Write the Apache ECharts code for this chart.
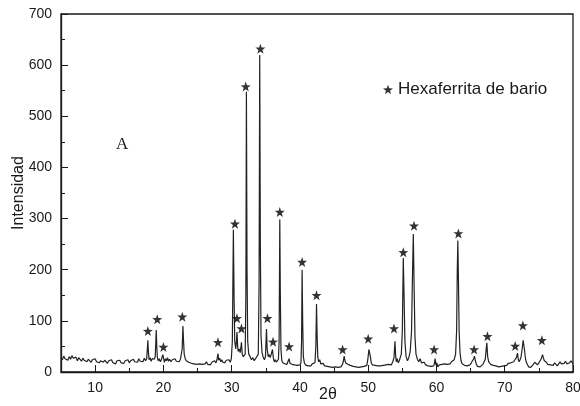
<!DOCTYPE html>
<html>
<head>
<meta charset="utf-8">
<script src="https://cdn.jsdelivr.net/npm/echarts@6/dist/echarts.min.js"></script>
<style>
  html, body { margin: 0; padding: 0; background: #fff; }
  #myChart { width: 580px; height: 406px; }
</style>
</head>
<body>
<div id="myChart"></div>
<script>
// XRD scan, [2theta, counts]
const scanLow = [
  [5.0,28],[5.2,24],[5.4,31],[5.6,26],[5.8,29],[6.0,23],[6.2,30],[6.4,25],[6.6,32],[6.8,27],
  [7.0,24],[7.2,29],[7.4,22],[7.6,28],[7.8,25],[8.0,21],[8.2,27],[8.4,23],[8.6,26],[8.8,20],
  [9.0,25],[9.2,22],[9.4,19],[9.6,24],[9.8,21],[10.0,26],[10.2,20],[10.4,23],[10.6,18],[10.8,22],
  [11.0,25],[11.2,19],[11.4,23],[11.6,20],[11.8,17],[12.0,22],[12.2,19],[12.4,24],[12.6,18],[12.8,21],
  [13.0,16],[13.2,22],[13.4,19],[13.6,23],[13.8,18],[14.0,21],[14.2,17],[14.4,22],[14.6,20],[14.8,24],
  [15.0,18],[15.2,22],[15.4,19],[15.6,25],[15.8,20],[16.0,23],[16.2,19],[16.4,26],[16.6,21],[16.8,24],
  [17.0,20],[17.2,27],[17.4,22],[17.55,26],[17.65,45],[17.72,62],[17.8,40],[17.9,24],[18.05,28],[18.2,21],
  [18.35,26],[18.5,23],[18.65,25],[18.8,30],[18.88,55],[18.95,82],[19.03,50],[19.12,28],[19.25,22],[19.4,26],
  [19.55,20],[19.7,24],[19.82,30],[19.92,34],[20.02,27],[20.15,19],[20.3,26],[20.45,22],[20.6,28],[20.75,21],
  [20.9,25],[21.1,20],[21.3,24],[21.5,22],[21.7,26],[21.9,21],[22.1,24],[22.3,20],[22.5,25],[22.65,28],
  [22.75,45],[22.86,90],[22.95,60],[23.05,35],[23.2,26],[23.35,22],[23.5,25],[23.7,19],[23.9,22],[24.1,17],
  [24.3,20],[24.5,16],[24.7,19],[24.9,15],[25.1,18],[25.3,16],[25.5,19],[25.7,15],[25.9,18],[26.1,16],
  [26.3,20],[26.5,15],[26.7,18],[26.9,14],[27.1,19],[27.3,17],[27.5,22],[27.7,18],[27.85,24],[27.99,36],
  [28.1,23],[28.25,27],[28.4,20],[28.55,24],[28.7,19],[28.85,22],[29.0,18],[29.2,23],[29.4,20],[29.6,24],
  [29.8,19],[29.95,26]
];
const scanMain = [
  [30.1,60],[30.25,278],[30.35,150],[30.45,60],[30.6,45],[30.7,60],[30.78,78],[30.88,50],[30.95,40],[31.1,45],
  [31.25,38],[31.35,48],[31.43,58],[31.55,35],[31.7,30],[31.85,28],[31.98,35],[32.08,150],[32.16,548],[32.25,200],
  [32.35,60],[32.5,35],[32.7,30],[32.9,24],[33.1,28],[33.3,22],[33.5,26],[33.7,25],[33.9,35],[34.02,180],
  [34.11,620],[34.2,250],[34.3,70],[34.45,38],[34.6,30],[34.8,24],[34.95,30],[35.02,55],[35.1,84],[35.2,45],
  [35.35,30],[35.5,34],[35.65,28],[35.8,35],[35.9,38],[35.98,44],[36.1,28],[36.25,20],[36.4,24],[36.55,19],
  [36.7,22],[36.85,25],[36.95,60],[37.05,298],[37.13,150],[37.22,45],[37.35,22],[37.5,18],[37.65,20],[37.8,16],
  [37.95,19],[38.1,15],[38.25,18],[38.41,26],[38.55,17],[38.7,20],[38.85,15],[39.0,18],[39.2,14],[39.4,17],
  [39.6,13],[39.8,16],[40.0,14],[40.15,18],[40.24,60],[40.32,200],[40.4,100],[40.5,30],[40.65,18],[40.8,14]
];
const scanHigh = [
  [41.0,16],[41.2,12],[41.4,15],[41.6,12],[41.8,16],[42.0,13],[42.2,18],[42.33,50],[42.43,133],[42.52,70],
  [42.62,28],[42.75,20],[42.9,24],[43.05,16],[43.2,14],[43.4,17],[43.6,12],[43.8,15],[44.0,11],[44.2,14],
  [44.4,10],[44.6,13],[44.8,9],[45.0,12],[45.2,10],[45.4,13],[45.6,9],[45.8,12],[46.0,10],[46.2,14],
  [46.35,20],[46.48,31],[46.6,22],[46.75,17],[46.9,20],[47.05,15],[47.2,18],[47.4,13],[47.6,15],[47.8,11],
  [48.0,14],[48.2,10],[48.4,12],[48.6,9],[48.8,12],[49.0,10],[49.2,13],[49.4,11],[49.6,14],[49.8,13],
  [49.95,25],[50.1,44],[50.2,47],[50.32,30],[50.45,18],[50.6,14],[50.8,11],[51.0,13],[51.2,10],[51.4,12],
  [51.6,9],[51.8,12],[52.0,10],[52.2,13],[52.4,11],[52.6,14],[52.8,12],[53.0,15],[53.2,18],[53.4,14],
  [53.6,20],[53.78,28],[53.92,60],[54.02,32],[54.12,20],[54.25,26],[54.4,18],[54.55,22],[54.7,25],[54.85,35],
  [55.0,80],[55.14,223],[55.25,150],[55.38,60],[55.55,30],[55.75,22],[55.95,28],[56.15,40],[56.35,80],[56.5,200],
  [56.61,270],[56.72,170],[56.85,70],[57.0,35],[57.2,25],[57.4,20],[57.6,26],[57.8,18],[58.0,15],[58.2,19],
  [58.4,14],[58.6,16],[58.8,12],[59.0,15],[59.2,11],[59.4,14],[59.6,12],[59.7,17],[59.8,26],[59.92,14],
  [60.05,18],[60.2,10],[60.4,14],[60.6,11],[60.8,15],[61.0,12],[61.2,16],[61.4,13],[61.6,15],[61.8,18],
  [62.0,16],[62.2,20],[62.4,18],[62.6,24],[62.8,35],[62.95,80],[63.05,200],[63.13,257],[63.22,180],[63.32,80],
  [63.45,38],[63.6,22],[63.75,16],[63.9,19],[64.1,13],[64.3,16],[64.5,12],[64.7,15],[64.9,14],[65.1,18],
  [65.3,20],[65.45,26],[65.56,31],[65.7,22],[65.85,15],[66.0,11],[66.2,14],[66.4,10],[66.6,13],[66.8,15],
  [67.0,18],[67.15,25],[67.28,45],[67.38,57],[67.5,30],[67.65,20],[67.8,22],[67.95,15],[68.1,18],[68.3,13],
  [68.5,16],[68.7,12],[68.9,14],[69.1,10],[69.3,13],[69.5,11],[69.7,14],[69.9,12],[70.1,15],[70.3,13],
  [70.5,17],[70.7,15],[70.9,18],[71.1,16],[71.3,20],[71.5,22],[71.7,28],[71.87,37],[71.98,25],[72.1,20],
  [72.25,24],[72.4,30],[72.55,45],[72.7,62],[72.8,65],[72.92,40],[73.05,25],[73.2,18],[73.35,14],[73.5,10],
  [73.65,13],[73.8,9],[74.0,12],[74.2,15],[74.4,19],[74.6,17],[74.8,14],[75.0,18],[75.2,21],[75.35,26],
  [75.54,34],[75.65,28],[75.8,22],[75.95,25],[76.1,19],[76.3,15],[76.5,12],[76.7,14],[76.9,11],[77.1,13],
  [77.3,18],[77.5,15],[77.7,12],[77.9,16],[78.1,20],[78.3,16],[78.5,13],[78.7,17],[78.9,21],[79.1,16],
  [79.3,14],[79.5,18],[79.7,22],[79.9,19],[80.0,16]
];

// star markers (hexaferrita de bario reflections)
const starAngle = [17.72, 19.1, 20.0, 22.77, 27.99, 30.48, 30.78, 31.43, 32.06, 34.21, 35.24, 36.06, 37.05, 38.41,
  40.32, 42.43, 46.25, 50.0, 53.78, 55.14, 56.71, 59.65, 63.21, 65.51, 67.47, 71.53, 72.66, 75.44];
const starHeight = [80, 103, 49, 108, 58, 290, 105, 85, 558, 632, 105, 59, 313, 50,
  215, 150, 44, 65, 85, 234, 286, 44, 271, 44, 70, 51, 91, 62];

const xMajorTicks = [10, 20, 30, 40, 50, 60, 70, 80];
const phaseName = "Hexaferrita de bario";

const starPath = "path://M0,-10L2.35,-3.24L9.51,-3.09L3.8,1.24L5.88,8.09L0,4L-5.88,8.09L-3.8,1.24L-9.51,-3.09L-2.35,-3.24Z";
const ink = "#1a1a1a";
const sans = "Liberation Sans, Arial, Helvetica, sans-serif";

let myChart = echarts.init(document.getElementById("myChart"));
myChart.setOption({
  animation: false,
  backgroundColor: "#fff",
  textStyle: { fontFamily: sans, color: ink },
  grid: {
    left: 61, right: 7, top: 14, bottom: 34,
    containLabel: false, outerBoundsMode: "none",
    show: true, borderColor: ink, borderWidth: 1.3
  },
  legend: {
    data: [phaseName],
    left: 378, top: 76,
    itemWidth: 10, itemHeight: 10,
    textStyle: { fontSize: 17, color: ink, fontFamily: sans }
  },
  graphic: [
    { type: "text", left: 116, top: 136, style: { text: "A", fontSize: 17, fontFamily: "Liberation Serif, Times New Roman, serif", fill: ink } },
    { type: "text", left: 319, top: 387, style: { text: "2θ", fontSize: 16, fontFamily: sans, fill: ink } }
  ],
  xAxis: [
    {
      type: "value", min: 5, max: 80, interval: 5,
      axisLine: { lineStyle: { color: ink, width: 1.3 } },
      axisTick: { inside: true, length: 4, lineStyle: { color: ink } },
      axisLabel: {
        margin: 9, fontSize: 14, color: ink,
        formatter: v => (v % 10 === 0 ? String(v) : "")
      },
      splitLine: { show: false }
    },
    {
      type: "value", min: 5, max: 80, position: "bottom", gridIndex: 0,
      axisLine: { show: false },
      axisTick: { inside: true, length: 7, customValues: xMajorTicks, lineStyle: { color: ink } },
      axisLabel: { show: false },
      splitLine: { show: false }
    }
  ],
  yAxis: {
    type: "value", min: 0, max: 700, interval: 100,
    name: "Intensidad", nameLocation: "middle", nameGap: 34, nameMoveOverlap: false,
    nameTextStyle: { fontSize: 16, color: ink, fontFamily: sans },
    axisLine: { show: true, lineStyle: { color: ink, width: 1.3 } },
    axisTick: { inside: true, length: 7, lineStyle: { color: ink } },
    minorTick: { show: true, splitNumber: 2, length: 4, lineStyle: { color: ink } },
    axisLabel: { margin: 9, fontSize: 14, color: ink },
    splitLine: { show: false }
  },
  series: [
    {
      type: "line",
      data: scanLow.concat(scanMain, scanHigh),
      showSymbol: false,
      symbol: "none",
      lineStyle: { color: "#222", width: 1.2 }
    },
    {
      name: phaseName,
      type: "scatter",
      data: starAngle.map((a, i) => [a, starHeight[i]]),
      symbol: starPath,
      symbolSize: 10,
      itemStyle: { color: "#000" },
      z: 5
    }
  ]
});
</script>
</body>
</html>
